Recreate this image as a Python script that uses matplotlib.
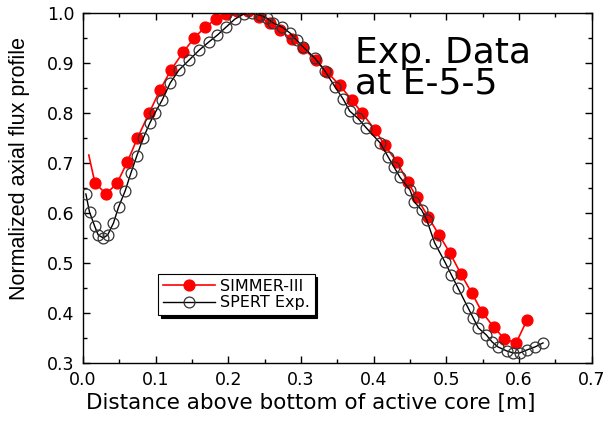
import matplotlib
matplotlib.use("Agg")

import matplotlib.pyplot as plt
from matplotlib.ticker import MultipleLocator, FormatStrFormatter

plt.rcParams["font.family"] = ["DejaVu Sans"]

# SIMMER-III calculation (first point is line only, no marker)
sim_x = [0.008, 0.0165, 0.032, 0.047, 0.061, 0.075, 0.091, 0.106, 0.121, 0.138,
         0.153, 0.168, 0.183, 0.197, 0.212, 0.227, 0.242, 0.257, 0.271, 0.287,
         0.303, 0.320, 0.336, 0.353, 0.370, 0.384, 0.402, 0.415, 0.432, 0.447,
         0.459, 0.475, 0.490, 0.505, 0.520, 0.535, 0.549, 0.565, 0.580, 0.596,
         0.611]
sim_y = [0.716, 0.660, 0.638, 0.660, 0.702, 0.750, 0.800, 0.846, 0.886, 0.922,
         0.950, 0.972, 0.988, 0.998, 1.004, 1.004, 0.993, 0.980, 0.966, 0.948,
         0.930, 0.906, 0.882, 0.856, 0.826, 0.800, 0.766, 0.736, 0.702, 0.662,
         0.632, 0.592, 0.556, 0.520, 0.478, 0.440, 0.402, 0.372, 0.348, 0.340,
         0.386]

# SPERT experiment
exp_x = [0.004, 0.009, 0.016, 0.021, 0.028, 0.034, 0.042, 0.049, 0.058, 0.066,
         0.074, 0.083, 0.092, 0.099, 0.109, 0.120, 0.132, 0.146, 0.160, 0.173,
         0.185, 0.197, 0.209, 0.221, 0.232, 0.243, 0.253, 0.262, 0.274, 0.285,
         0.294, 0.303, 0.319, 0.333, 0.347, 0.358, 0.367, 0.378, 0.390, 0.409,
         0.420, 0.428, 0.436, 0.450, 0.456, 0.466, 0.473, 0.484, 0.498, 0.507,
         0.516, 0.530, 0.537, 0.544, 0.555, 0.563, 0.571, 0.583, 0.592, 0.601,
         0.611, 0.622, 0.633]
exp_y = [0.638, 0.602, 0.574, 0.556, 0.550, 0.556, 0.580, 0.612, 0.644, 0.680,
         0.714, 0.750, 0.780, 0.800, 0.826, 0.860, 0.886, 0.906, 0.926, 0.942,
         0.956, 0.972, 0.988, 0.998, 1.000, 0.996, 0.990, 0.980, 0.972, 0.960,
         0.946, 0.932, 0.910, 0.884, 0.852, 0.828, 0.804, 0.790, 0.770, 0.740,
         0.712, 0.692, 0.672, 0.646, 0.622, 0.606, 0.586, 0.540, 0.502, 0.476,
         0.450, 0.410, 0.390, 0.370, 0.356, 0.342, 0.332, 0.324, 0.320, 0.320,
         0.326, 0.332, 0.340]

fig = plt.figure(figsize=(6.1, 4.22), dpi=100)
ax = fig.add_axes([0.136, 0.140, 0.834, 0.829])

ax.plot(sim_x, sim_y, color="red", lw=1.2, marker="o", ms=7.8,
        markevery=list(range(1, len(sim_x))), mfc="red", mec="red",
        label="SIMMER-III", zorder=2)
ax.plot(exp_x, exp_y, color="black", lw=1.0, marker="o", ms=7.8,
        mfc="none", mec="#333333", mew=0.9, label="SPERT Exp.", zorder=3)

ax.set_xlim(0.0, 0.7)
ax.set_ylim(0.3, 1.0)
ax.xaxis.set_major_locator(MultipleLocator(0.1))
ax.xaxis.set_minor_locator(MultipleLocator(0.05))
ax.yaxis.set_major_locator(MultipleLocator(0.1))
ax.yaxis.set_minor_locator(MultipleLocator(0.05))
ax.tick_params(which="both", direction="in", top=True, right=True, labelsize=12.5)
ax.tick_params(which="major", length=5, width=1)
ax.tick_params(which="minor", length=3, width=1)
ax.tick_params(axis="x", pad=5.5)
ax.tick_params(axis="y", pad=6)
ax.xaxis.set_major_formatter(FormatStrFormatter("%.1f"))
ax.yaxis.set_major_formatter(FormatStrFormatter("%.1f"))
for s in ax.spines.values():
    s.set_linewidth(1.0)

ax.set_xlabel("Distance above bottom of active core [m]", fontsize=15.5)
ax.xaxis.set_label_coords(0.448, -0.085)
ax.set_ylabel("Normalized axial flux profile", fontsize=15.5,
              family="Liberation Sans")
ax.yaxis.set_label_coords(-0.105, 0.557)

ax.text(0.535, 0.935, "Exp. Data\nat E-5-5", transform=ax.transAxes,
        fontsize=26, ha="left", va="top", linespacing=0.88, color="black")

leg = ax.legend(loc="lower left", bbox_to_anchor=(0.147, 0.137), fontsize=11.5,
                frameon=True, fancybox=False, edgecolor="black",
                shadow={"color": "black", "alpha": 1.0}, handlelength=3.3,
                borderpad=0.3, labelspacing=0.1, handletextpad=0.3,
                borderaxespad=0)
leg.get_frame().set_linewidth(0.8)

fig.savefig("out.png", dpi=100)
plt.close(fig)
